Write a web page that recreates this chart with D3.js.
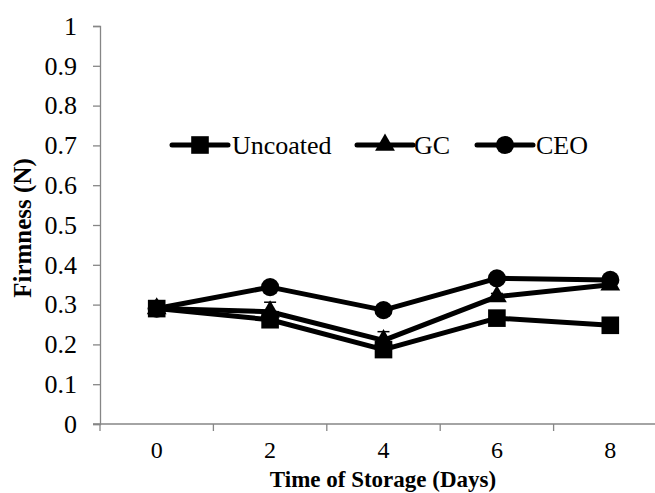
<!DOCTYPE html>
<html>
<head>
<meta charset="utf-8">
<script src="https://d3js.org/d3.v7.min.js"></script>
<style>
  body { margin:0; background:#fff; }
  svg { display:block; }
  text { font-family: "Liberation Serif", "Times New Roman", serif; fill:#000; }
</style>
</head>
<body>
<script>
var days = ["0", "2", "4", "6", "8"];
var uncoated = [0.29, 0.262, 0.187, 0.266, 0.248];
var gc = [0.29, 0.282, 0.21, 0.32, 0.35];
var ceo = [0.29, 0.344, 0.286, 0.366, 0.362];
var gcErr = [0.004, 0.024, 0.022, 0.008, 0.008];
var smallErr = [0.004, 0.005, 0.005, 0.005, 0.005];
var yTicks = [0, 0.1, 0.2, 0.3, 0.4, 0.5, 0.6, 0.7, 0.8, 0.9, 1];

var width = 655, height = 493;
var svg = d3.select("body").append("svg")
    .attr("width", width)
    .attr("height", height);

var x = d3.scaleBand().domain(days).range([100, 667]);
var y = d3.scaleLinear().domain([0, 1]).range([424, 26]);

var axisColor = "#868686";
var serif = "'Liberation Serif', 'Times New Roman', serif";

// y axis
var yAxis = svg.append("g")
    .attr("transform", "translate(100,0)")
    .call(d3.axisLeft(y).tickValues(yTicks).tickSize(7).tickPadding(16)
      .tickFormat(function(d) { return String(+d.toFixed(1)); }));
yAxis.attr("font-family", serif).attr("font-size", null);
yAxis.select(".domain").attr("stroke", axisColor).attr("stroke-width", 1.3);
yAxis.selectAll(".tick line").attr("stroke", axisColor).attr("stroke-width", 1.3);
yAxis.selectAll(".tick text").style("font-size", "26px").attr("fill", "#000");

// x axis
var xAxis = svg.append("g")
    .attr("transform", "translate(0,424)")
    .call(d3.axisBottom(x).tickSize(0).tickPadding(17));
xAxis.attr("font-family", serif).attr("font-size", null);
xAxis.select(".domain").attr("stroke", axisColor).attr("stroke-width", 1.3)
    .attr("d", "M93,0H667");
xAxis.selectAll(".tick text").style("font-size", "24px").attr("fill", "#000");
var bounds = [100, 213.4, 326.8, 440.2, 553.6, 667];
svg.append("g").selectAll("line").data(bounds).enter().append("line")
    .attr("x1", function(d) { return d; }).attr("x2", function(d) { return d; })
    .attr("y1", 424).attr("y2", 431)
    .attr("stroke", axisColor).attr("stroke-width", 1.3);

// axis titles
svg.append("text")
    .attr("transform", "translate(31,228) rotate(-90)")
    .attr("text-anchor", "middle")
    .style("font-size", "25px").style("font-weight", "bold")
    .text("Firmness (N)");
svg.append("text")
    .attr("x", 383).attr("y", 487)
    .attr("text-anchor", "middle")
    .style("font-size", "23px").style("font-weight", "bold")
    .text("Time of Storage (Days)");

var series = [
  { name: "Uncoated", values: uncoated, err: smallErr, shape: d3.symbolSquare, size: 310 },
  { name: "GC", values: gc, err: gcErr, shape: d3.symbolTriangle, size: 170 },
  { name: "CEO", values: ceo, err: smallErr, shape: d3.symbolCircle, size: 260 }
];

var line = d3.line()
    .x(function(d, i) { return x(days[i]) + x.bandwidth() / 2; })
    .y(function(d) { return y(d); });

var plot = svg.append("g");
series.forEach(function(s) {
  // error bars
  var eb = plot.append("g");
  s.values.forEach(function(v, i) {
    var cx = x(days[i]) + x.bandwidth() / 2;
    eb.append("line").attr("x1", cx).attr("x2", cx)
      .attr("y1", y(v - s.err[i])).attr("y2", y(v + s.err[i]))
      .attr("stroke", "#000").attr("stroke-width", 1.5);
    [v - s.err[i], v + s.err[i]].forEach(function(e) {
      eb.append("line").attr("x1", cx - 6).attr("x2", cx + 6)
        .attr("y1", y(e)).attr("y2", y(e))
        .attr("stroke", "#000").attr("stroke-width", 1.5);
    });
  });
  plot.append("path")
    .datum(s.values)
    .attr("d", line)
    .attr("fill", "none")
    .attr("stroke", "#000")
    .attr("stroke-width", 5)
    .attr("stroke-linejoin", "round");
  plot.selectAll(null).data(s.values).enter().append("path")
    .attr("transform", function(d, i) {
      return "translate(" + (x(days[i]) + x.bandwidth() / 2) + "," + y(d) + ")";
    })
    .attr("d", d3.symbol().type(s.shape).size(s.size))
    .attr("fill", "#000");
});

// legend
var legendPos = [{ x: 172, tx: 232 }, { x: 357, tx: 414 }, { x: 477, tx: 536 }];
var legend = svg.append("g");
series.forEach(function(s, i) {
  var p = legendPos[i];
  var g = legend.append("g").attr("transform", "translate(0,145)");
  g.append("line").attr("x1", p.x).attr("x2", p.x + 56)
    .attr("y1", 0).attr("y2", 0)
    .attr("stroke", "#000").attr("stroke-width", 5)
    .attr("stroke-linecap", "round");
  g.append("path")
    .attr("transform", "translate(" + (p.x + 28) + ",0)")
    .attr("d", d3.symbol().type(s.shape).size(s.size))
    .attr("fill", "#000");
  g.append("text").attr("x", p.tx).attr("y", 9)
    .style("font-size", "26px")
    .text(s.name);
});
</script>
</body>
</html>
